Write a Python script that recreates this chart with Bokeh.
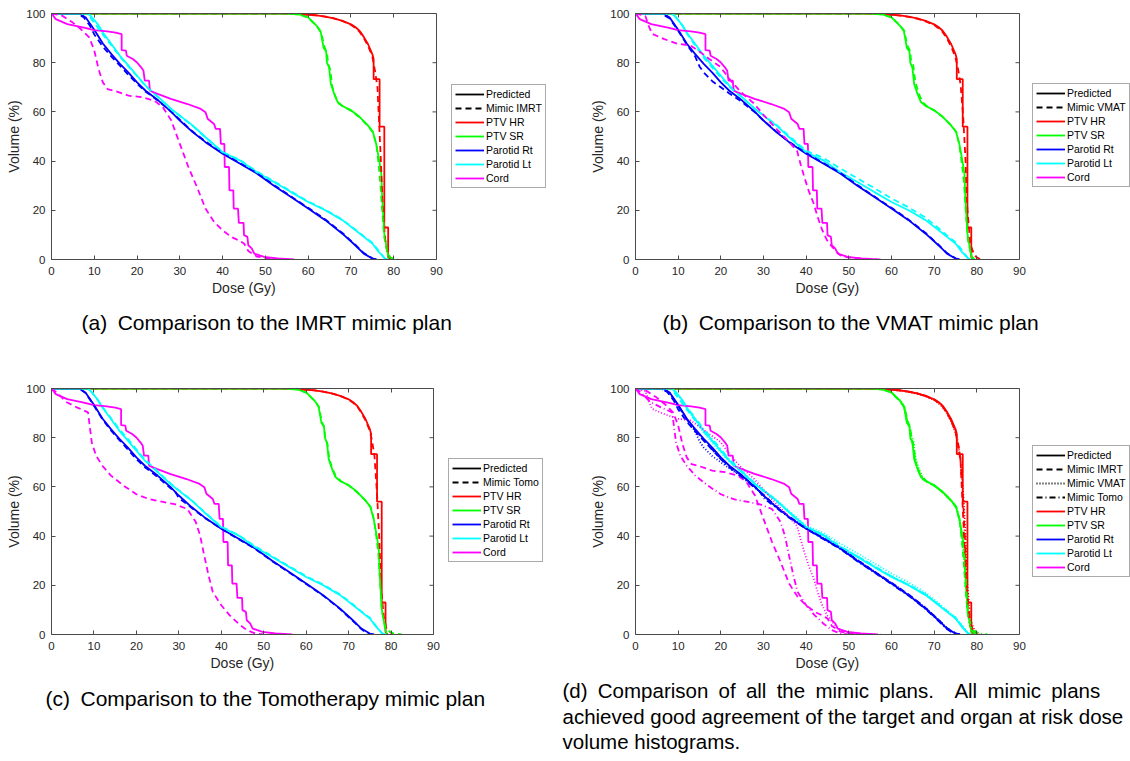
from bokeh.plotting import figure
from bokeh.models import (Range1d, FixedTicker, LinearAxis, Legend, LegendItem, Title, Span,
                          CustomJSTickFormatter)
from bokeh.layouts import row, column
from bokeh.embed import file_html
from bokeh.resources import INLINE

# ---------------- data ----------------
DOSE_TICKS = [0, 10, 20, 30, 40, 50, 60, 70, 80, 90]
VOLUME_TICKS = [0, 20, 40, 60, 80, 100]
DOSE_MAX = 90
STRUCTURES = ["PTV HR", "PTV SR", "Parotid Rt", "Parotid Lt", "Cord"]

# Predicted plan (same in every panel)
PRED_PTVHR_DOSE = [0, 55, 58, 60, 62, 64, 66, 68, 70, 71, 72, 73, 74, 75.0, 75.3, 75.3, 76.7, 76.7, 77.8, 77.8, 78.7, 78.7, 79.2]
PRED_PTVHR_VOL = [100, 100, 99.8, 99.5, 99.2, 98.7, 98.0, 97.0, 95.6, 94.5, 93.0, 90.5, 87.5, 83.5, 81.5, 73.3, 73.3, 54.0, 54.0, 13.0, 13.0, 1.0, 0]
PRED_PTVSR_DOSE = [0, 55, 58, 60, 62, 62.9, 63.6, 64.2, 64.4, 64.9, 65.3, 66.1, 66.9, 68.1, 70, 72, 73.9, 75.1, 75.9, 76.6, 77.1, 77.3, 77.8, 78.6, 79.0]
PRED_PTVSR_VOL = [100, 100, 99.6, 98.4, 95.0, 92.8, 86.0, 84.6, 80.0, 78.0, 71.4, 67.3, 64.0, 62.3, 60.7, 58.0, 54.6, 52.0, 47.0, 40.3, 35.0, 25.4, 10.5, 2.4, 0]
PRED_PARRT_DOSE = [0, 6.5, 8, 10, 12, 14, 16, 18, 20, 22, 25, 28, 30, 33, 36, 40, 44, 48, 52, 56, 60, 64, 68, 71, 73, 75, 76]
PRED_PARRT_VOL = [100, 100, 98.4, 93.4, 87.8, 83.5, 79.5, 76.0, 72.0, 68.6, 64.6, 60.0, 56.5, 51.8, 47.7, 43.0, 39.0, 35.0, 30.0, 25.4, 20.7, 16.0, 10.5, 5.8, 2.4, 0.4, 0]
PRED_PARLT_DOSE = [0, 8.5, 9.2, 10.8, 12, 14, 16, 18, 20, 22, 25, 28, 30, 33, 36, 40, 44, 48, 52, 56, 60, 64, 68, 71, 73, 75, 76.5, 78, 78.6]
PRED_PARLT_VOL = [100, 100, 99, 95.7, 92.3, 87.6, 82.8, 78.8, 74.7, 70.7, 66.0, 61.2, 58.5, 54.5, 49.7, 43.6, 40.3, 35.5, 31.5, 27.4, 23.4, 20.0, 16.0, 12.0, 9.2, 6.5, 3.1, 0.4, 0]
PRED_CORD_DOSE = [0, 1.0, 3.7, 7.6, 10, 13, 15, 16.4, 16.4, 17.4, 17.6, 19, 20, 21, 21.5, 21.8, 22.8, 23.0, 24.8, 27.9, 31.8, 34.9, 36.0, 36.5, 38.0, 38.4, 39.4, 39.6, 40.4, 40.5, 41.5, 41.6, 42.5, 42.6, 43.6, 43.8, 44.9, 45.0, 45.8, 46.0, 46.8, 47.4, 49.7, 52.8, 56.7]
PRED_CORD_VOL = [100, 97.7, 95.7, 94.3, 93.2, 92.7, 92.2, 91.6, 85.1, 84.9, 82.8, 81.5, 80.1, 78.0, 76.7, 72.7, 72.7, 68.6, 67.3, 65.3, 63.2, 61.2, 59.9, 57.2, 55.1, 53.1, 53.1, 47.0, 47.0, 37.6, 37.6, 28.1, 28.1, 20.7, 20.7, 14.9, 14.9, 9.9, 9.2, 5.8, 4.5, 2.4, 1.1, 0.4, 0]

# Mimic IMRT
IMRT_PTVHR_DOSE = [0, 55, 58, 60, 62, 64, 66, 68, 70, 71, 72, 73, 74, 75.0, 75.6, 76.2, 76.6, 77.0, 77.4, 78.0, 78.5, 79.3]
IMRT_PTVHR_VOL = [100, 100, 99.8, 99.5, 99.2, 98.7, 98.0, 97.0, 95.4, 94.2, 92.6, 90.0, 86.8, 82.5, 77.0, 70.0, 55.0, 40.0, 22.0, 8.0, 3.0, 0]
IMRT_PTVSR_DOSE = [0, 55, 58, 60, 62, 63.1, 63.8, 64.4, 64.7, 65.2, 65.6, 66.3, 67.1, 68.3, 70, 72, 74, 75.2, 76.0, 76.5, 76.9, 77.3, 77.8, 78.5, 79.2, 81.0]
IMRT_PTVSR_VOL = [100, 100, 99.6, 98.3, 94.8, 92.0, 86.5, 84.0, 79.5, 77.0, 70.5, 66.5, 63.5, 62.0, 60.5, 57.8, 54.3, 51.5, 46.0, 38.0, 30.0, 20.0, 9.0, 3.0, 0.8, 0]
IMRT_PARRT_DOSE = [0, 6, 7.5, 9, 10, 11, 12, 14, 16, 18, 20, 22, 25, 28, 30, 33, 36, 40, 44, 48, 52, 56, 60, 64, 68, 71, 73, 75, 76]
IMRT_PARRT_VOL = [100, 100, 98.5, 95, 91.5, 89, 86.5, 82.5, 78.8, 75.0, 71.5, 68.2, 64.5, 60.0, 56.8, 52.0, 48.0, 43.2, 39.2, 35.2, 30.3, 25.6, 21.0, 16.3, 10.8, 6.0, 2.6, 0.5, 0]
IMRT_PARLT_DOSE = [0, 8, 9, 10.5, 12, 14, 16, 18, 20, 22, 25, 28, 30, 33, 36, 40, 44, 48, 52, 56, 60, 64, 68, 71, 73, 75, 76.5, 77.8, 78.5]
IMRT_PARLT_VOL = [100, 100, 98.5, 95.0, 91.5, 87.0, 82.5, 78.5, 74.5, 70.5, 65.8, 61.0, 58.3, 54.3, 49.6, 43.7, 40.5, 35.8, 31.8, 27.7, 23.6, 20.2, 16.2, 12.2, 9.5, 6.8, 3.5, 0.6, 0]
IMRT_CORD_DOSE = [0, 1.5, 2.6, 4.9, 6.9, 8.8, 10, 11, 12, 13.1, 15, 18, 21, 24, 26, 28, 30, 32, 34, 36, 38, 40, 42, 44, 45, 46, 48, 51, 55]
IMRT_CORD_VOL = [100, 99.5, 99, 96.4, 93.6, 90.3, 85, 77.4, 72, 69.3, 68.4, 66.6, 66, 64.6, 62, 56.5, 47, 37.6, 29.5, 20.7, 15.3, 11.9, 9.2, 7.6, 6.5, 3.5, 1.2, 0.3, 0]

# Mimic VMAT
VMAT_PTVHR_DOSE = [0, 55, 58, 60, 62, 64, 66, 68, 70, 71, 72, 73, 74, 75.0, 75.6, 76.2, 76.8, 77.3, 77.8, 78.5, 79.5, 80.8]
VMAT_PTVHR_VOL = [100, 100, 99.8, 99.5, 99.1, 98.6, 97.9, 96.8, 95.3, 94.0, 92.4, 89.8, 86.5, 82.0, 77.5, 71.0, 58.0, 42.0, 20.0, 6.0, 1.5, 0]
VMAT_PTVSR_DOSE = [0, 55, 58, 60, 62, 63.0, 63.7, 64.3, 64.6, 65.1, 65.6, 66.5, 67.3, 68.5, 70, 72, 74, 75.2, 75.9, 76.5, 77.0, 77.4, 77.9, 78.7, 79.5]
VMAT_PTVSR_VOL = [100, 100, 99.6, 98.4, 95.2, 93.0, 87.0, 85.0, 81.0, 79.0, 72.0, 67.0, 64.0, 62.0, 60.6, 57.9, 54.5, 51.8, 46.5, 39.0, 31.0, 20.0, 8.0, 1.5, 0]
VMAT_PARRT_DOSE = [0, 6, 8, 10, 12, 14, 15, 16, 18, 20, 22, 25, 28, 30, 33, 36, 40, 44, 48, 52, 56, 60, 64, 68, 71, 73, 75, 76.5]
VMAT_PARRT_VOL = [100, 100, 98, 93, 87.5, 82.5, 78.5, 76.0, 72.5, 70.0, 67.5, 64.0, 59.8, 56.5, 52.0, 47.8, 43.2, 39.3, 35.2, 30.3, 25.6, 21.0, 16.2, 10.8, 6.0, 2.6, 0.5, 0]
VMAT_PARLT_DOSE = [0, 8.5, 9.5, 11, 12, 14, 16, 18, 20, 22, 25, 28, 30, 33, 36, 40, 44, 48, 52, 56, 60, 64, 68, 71, 73, 75, 76.5, 77.8, 78.5]
VMAT_PARLT_VOL = [100, 100, 98.5, 95.0, 92.0, 87.0, 82.0, 78.0, 74.0, 70.2, 65.8, 61.2, 58.6, 54.8, 50.2, 44.2, 41.3, 37.0, 33.0, 29.0, 24.8, 21.2, 17.0, 12.8, 9.8, 7.0, 3.8, 0.8, 0]
VMAT_CORD_DOSE = [0, 2.3, 3.1, 3.9, 6.6, 9.8, 12.9, 15.2, 17.2, 19.9, 21.9, 24.6, 27.7, 30, 33.2, 35.9, 37.9, 38.7, 39.6, 40.6, 41.8, 42.7, 43.8, 44.9, 46.1, 48, 50, 55, 57.4]
VMAT_CORD_VOL = [100, 99, 95, 91.7, 89.7, 87.7, 87, 84.3, 81.6, 78.3, 73.6, 68.2, 63.5, 58.8, 52.8, 48, 44, 38.7, 33.3, 27.9, 22.6, 17.2, 11.8, 7.8, 5.1, 1.7, 0.8, 0.1, 0]

# Mimic Tomotherapy
TOMO_PTVHR_DOSE = [0, 55, 58, 60, 62, 64, 66, 68, 70, 71, 72, 73, 74, 75.0, 75.5, 76.1, 76.7, 77.2, 77.7, 78.3, 79.0, 80.5]
TOMO_PTVHR_VOL = [100, 100, 99.8, 99.5, 99.2, 98.7, 98.0, 97.0, 95.5, 94.3, 92.8, 90.2, 87.0, 82.8, 79.0, 72.5, 57.0, 40.0, 18.0, 7.0, 2.0, 0]
TOMO_PTVSR_DOSE = [0, 55, 58, 60, 62, 63.0, 63.7, 64.3, 64.5, 65.0, 65.5, 66.3, 67.1, 68.3, 70, 72, 74, 75.2, 76.0, 76.6, 77.0, 77.4, 77.9, 78.8, 80.5, 82.5]
TOMO_PTVSR_VOL = [100, 100, 99.6, 98.3, 95.0, 92.5, 86.5, 84.0, 79.5, 77.5, 71.0, 67.0, 64.0, 62.2, 60.6, 57.8, 54.4, 51.8, 46.5, 39.0, 33.0, 22.0, 9.0, 2.0, 0.5, 0]
TOMO_PARRT_DOSE = [0, 6.5, 8, 10, 12, 14, 16, 18, 20, 22, 25, 28, 29, 30, 33, 36, 40, 44, 48, 52, 56, 60, 64, 68, 71, 73, 74.5, 75.5]
TOMO_PARRT_VOL = [100, 100, 98.2, 93.0, 87.5, 83.0, 79.0, 75.2, 71.3, 68.0, 64.0, 59.5, 58.5, 55.5, 51.5, 47.5, 43.0, 38.8, 34.8, 29.8, 25.2, 20.5, 15.8, 10.3, 5.5, 2.2, 0.4, 0]
TOMO_PARLT_DOSE = [0, 8.5, 9.5, 11, 12, 14, 16, 18, 20, 22, 25, 28, 30, 33, 36, 40, 44, 48, 52, 56, 60, 64, 68, 71, 73, 75, 76.5, 77.8, 78.5]
TOMO_PARLT_VOL = [100, 100, 98.5, 95.0, 92.5, 88.0, 83.5, 79.5, 75.3, 71.2, 66.3, 61.5, 58.7, 54.6, 49.8, 43.8, 40.5, 35.8, 31.8, 27.7, 23.7, 20.3, 16.3, 12.3, 9.4, 6.8, 3.3, 0.6, 0]
TOMO_CORD_DOSE = [0, 1.5, 3.4, 6, 8.6, 9.5, 10.5, 12, 14, 17, 20, 23, 26, 29, 32, 34, 35, 36, 37, 38, 40, 42, 44, 46, 48, 50]
TOMO_CORD_VOL = [100, 98, 94.6, 92.3, 90.3, 78, 72.7, 68.6, 64.6, 60.5, 57, 55, 54, 53, 51, 45.7, 40.3, 32, 24, 17.3, 11.9, 7.8, 4.5, 1.8, 0.4, 0]

PREDICTED = [(PRED_PTVHR_DOSE, PRED_PTVHR_VOL), (PRED_PTVSR_DOSE, PRED_PTVSR_VOL),
             (PRED_PARRT_DOSE, PRED_PARRT_VOL), (PRED_PARLT_DOSE, PRED_PARLT_VOL),
             (PRED_CORD_DOSE, PRED_CORD_VOL)]
MIMIC_IMRT = [(IMRT_PTVHR_DOSE, IMRT_PTVHR_VOL), (IMRT_PTVSR_DOSE, IMRT_PTVSR_VOL),
              (IMRT_PARRT_DOSE, IMRT_PARRT_VOL), (IMRT_PARLT_DOSE, IMRT_PARLT_VOL),
              (IMRT_CORD_DOSE, IMRT_CORD_VOL)]
MIMIC_VMAT = [(VMAT_PTVHR_DOSE, VMAT_PTVHR_VOL), (VMAT_PTVSR_DOSE, VMAT_PTVSR_VOL),
              (VMAT_PARRT_DOSE, VMAT_PARRT_VOL), (VMAT_PARLT_DOSE, VMAT_PARLT_VOL),
              (VMAT_CORD_DOSE, VMAT_CORD_VOL)]
MIMIC_TOMO = [(TOMO_PTVHR_DOSE, TOMO_PTVHR_VOL), (TOMO_PTVSR_DOSE, TOMO_PTVSR_VOL),
              (TOMO_PARRT_DOSE, TOMO_PARRT_VOL), (TOMO_PARLT_DOSE, TOMO_PARLT_VOL),
              (TOMO_CORD_DOSE, TOMO_CORD_VOL)]

X_LABEL = "Dose (Gy)"
Y_LABEL = "Volume (%)"
CAPTION_A = "(a)\u2002Comparison to the IMRT mimic plan"
CAPTION_B = "(b)\u2002Comparison to the VMAT mimic plan"
CAPTION_C = "(c)\u2002Comparison to the Tomotherapy mimic plan"
CAPTION_D = ["(d)\u2002Comparison\u2002of\u2002all\u2002the\u2002mimic\u2002plans.\u2002\u2002All\u2002mimic\u2002plans",
             "achieved good agreement of the target and organ at risk dose",
             "volume histograms."]

# ---------------- styles ----------------
FONT = "Liberation Sans"
STRUCT_COLORS = ["#FF0000", "#00FF00", "#0000FF", "#00FFFF", "#FF00FF"]
AXIS_COLOR = "#4a4a4a"
TEXT_COLOR = "#262626"
LW = 1.8
DASHED = "6 4"
DOTTED = "1 2"
DASHDOT = "6 3 1 3"
NAN = float("nan")
TICK_PX = 4
XLABEL_HALF_WIDTH = 32  # half the rendered width of "Dose (Gy)" at 14px


def build_panel(width, height, left, top, plot_w, fh, mimics, legend_xy):
    # the frame spans the axes box plus the legend area at its right;
    # the dose axis itself is bounded to 0..90
    frame_w = width - left
    x_end = DOSE_MAX * frame_w / plot_w
    p = figure(width=width, height=height, output_backend="svg", toolbar_location=None,
               x_range=Range1d(0, x_end), y_range=Range1d(0, 100),
               min_border_left=left, min_border_top=top,
               min_border_right=0, min_border_bottom=height - top - fh,
               background_fill_color="white", border_fill_color="white")
    p.xgrid.visible = False
    p.ygrid.visible = False
    p.outline_line_color = None

    p.xaxis.ticker = FixedTicker(ticks=DOSE_TICKS)
    p.yaxis.ticker = FixedTicker(ticks=VOLUME_TICKS)
    p.xaxis.bounds = (0, DOSE_MAX)
    p.yaxis.axis_label = Y_LABEL
    for ax in (p.xaxis[0], p.yaxis[0]):
        ax.axis_line_color = AXIS_COLOR
        ax.major_tick_line_color = AXIS_COLOR
        ax.major_tick_in = TICK_PX
        ax.major_tick_out = 0
        ax.minor_tick_line_color = None
        ax.major_label_text_font = FONT
        ax.major_label_text_font_size = "11.5px"
        ax.major_label_text_color = TEXT_COLOR
        ax.axis_label_text_font = FONT
        ax.axis_label_text_font_size = "14px"
        ax.axis_label_text_font_style = "normal"
        ax.axis_label_text_color = TEXT_COLOR
    p.xaxis.major_label_standoff = 7
    p.yaxis.major_label_standoff = 6
    p.yaxis.axis_label_standoff = 1

    # x label centred under the 0..90 box (the frame also holds the legend area)
    p.add_layout(Title(text=X_LABEL, align="left", offset=plot_w / 2 - XLABEL_HALF_WIDTH,
                       standoff=1, text_font=FONT, text_font_size="14px",
                       text_font_style="normal", text_color=TEXT_COLOR), "below")

    # top edge of the box, with ticks
    top_ax = LinearAxis(ticker=FixedTicker(ticks=DOSE_TICKS), bounds=(0, DOSE_MAX),
                        formatter=CustomJSTickFormatter(code="return ''"),
                        major_tick_in=TICK_PX, major_tick_out=0, minor_tick_line_color=None,
                        axis_line_color=AXIS_COLOR, major_tick_line_color=AXIS_COLOR,
                        major_label_text_font_size="0px", major_label_standoff=0)
    p.add_layout(top_ax, "above")
    # right edge of the box, with ticks
    p.add_layout(Span(location=DOSE_MAX, dimension="height", line_color=AXIS_COLOR, line_width=1))
    tick_len = TICK_PX * x_end / frame_w
    p.segment(x0=[DOSE_MAX] * len(VOLUME_TICKS), x1=[DOSE_MAX - tick_len] * len(VOLUME_TICKS),
              y0=VOLUME_TICKS, y1=VOLUME_TICKS, line_color=AXIS_COLOR, line_width=1)

    pred_renderers = []
    for (d, v), c in zip(PREDICTED, STRUCT_COLORS):
        pred_renderers.append(p.line(d, v, line_color=c, line_width=LW))
    for name, dash, series in mimics:
        for (d, v), c in zip(series, STRUCT_COLORS):
            p.line(d, v, line_color=c, line_width=LW, line_dash=dash)

    items = [LegendItem(label="Predicted",
                        renderers=[p.line([NAN], [NAN], line_color="black", line_width=LW)])]
    for name, dash, series in mimics:
        items.append(LegendItem(label=name, renderers=[
            p.line([NAN], [NAN], line_color="black", line_width=LW, line_dash=dash)]))
    for s, r in zip(STRUCTURES, pred_renderers):
        items.append(LegendItem(label=s, renderers=[r]))
    leg = Legend(items=items, location=legend_xy, margin=0, padding=3, spacing=2,
                 glyph_width=29, glyph_height=12, label_height=12, label_standoff=2,
                 label_text_font=FONT, label_text_font_size="10.5px", label_text_color="black",
                 border_line_color="#555555", border_line_width=1,
                 background_fill_color="white", background_fill_alpha=1.0)
    p.add_layout(leg)
    return p


def add_caption(p, text, offset, standoff, size, line_height=1.2):
    p.add_layout(Title(text=text, align="left", offset=offset, standoff=standoff,
                       text_font=FONT, text_font_size=size, text_font_style="normal",
                       text_color="black", text_line_height=line_height), "below")


pa = build_panel(560, 372, 51, 13, 385, 246, [("Mimic IMRT", DASHED, MIMIC_IMRT)], (400, 71))
pb = build_panel(570, 372, 75, 11, 384, 248, [("Mimic VMAT", DASHED, MIMIC_VMAT)], (397, 72))
pc = build_panel(560, 389, 51, 16, 382, 246, [("Mimic Tomo", DASHED, MIMIC_TOMO)], (397, 72))
pd = build_panel(570, 389, 75, 14, 384, 248, [("Mimic IMRT", DASHED, MIMIC_IMRT),
                                              ("Mimic VMAT", DOTTED, MIMIC_VMAT),
                                              ("Mimic Tomo", DASHDOT, MIMIC_TOMO)], (397, 57))

add_caption(pa, CAPTION_A, 30, 24, "21px")
add_caption(pb, CAPTION_B, 27, 24, "21px")
add_caption(pc, CAPTION_C, -6, 27, "21px")
add_caption(pd, "\n".join(CAPTION_D), -73, 10, "20.5px", 1.13)

layout = column(row(pa, pb), row(pc, pd))
open("out.html", "w").write(file_html(layout, INLINE))
